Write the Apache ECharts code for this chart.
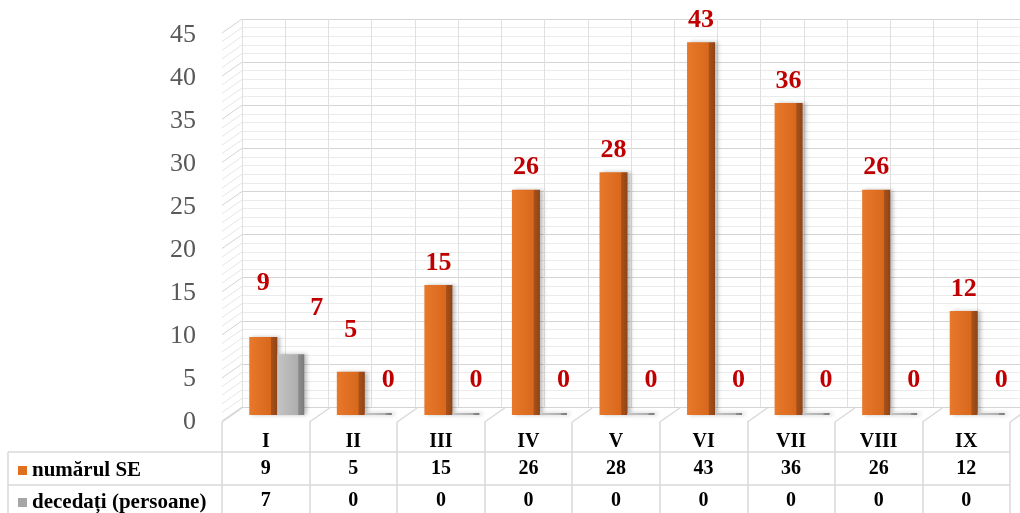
<!DOCTYPE html>
<html><head><meta charset="utf-8">
<script src="https://cdn.jsdelivr.net/npm/echarts@6/dist/echarts.min.js"></script>
<style>html,body{margin:0;padding:0;background:#fff}#c{width:1020px;height:513px}</style>
</head><body><div id="c"></div>
<script>
// ---- data ----
const categories = ['I','II','III','IV','V','VI','VII','VIII','IX'];
const seriesNames = ['numărul SE','decedați (persoane)'];
const numarulSE = [9,5,15,26,28,43,36,26,12];
const decedati = [7,0,0,0,0,0,0,0,0];
const yMin = 0, yMax = 45, yStep = 5;

// ---- styling ----
const SERIF = "'Liberation Serif','Times New Roman',serif";
const ORANGE = '#E07020', GREY = '#A6A6A6';
const orangeFill = {type:'linear',x:0,y:0,x2:1,y2:0,colorStops:[
  {offset:0,color:'#E8782A'},{offset:0.76,color:'#D8681C'},{offset:0.79,color:'#A9501A'},{offset:1,color:'#8E4416'}]};
const greyFill = {type:'linear',x:0,y:0,x2:1,y2:0,colorStops:[
  {offset:0,color:'#C4C4C4'},{offset:0.76,color:'#AEAEAE'},{offset:0.79,color:'#8C8C8C'},{offset:1,color:'#7A7A7A'}]};
const orangeLabelDist = {0:41, 1:28};
const greyLabelDist = {0:33};
const greyLabelOffset = {0:[26,0]};

const chart = echarts.init(document.getElementById('c'));
const lineColor = '#D9D9D9';
const tableFont = {fontFamily:SERIF,fontSize:20,fontWeight:'bold',color:'#000'};
const legendBase = {orient:'vertical',left:13,itemWidth:9,itemHeight:9,icon:'rect',
  textStyle:{fontFamily:SERIF,fontSize:21,fontWeight:'bold',color:'#000'}};

chart.setOption({
  backgroundColor:'#fff',
  animation:false,
  grid:[
    {left:222,right:10,top:35,bottom:91},   // axis labels + table
    {left:219,right:13,top:25,bottom:98},   // bars
    {left:242,right:-12,top:19,bottom:106}  // back wall
  ],
  legend:[
    Object.assign({top:455,data:[{name:seriesNames[0],itemStyle:{color:ORANGE}}]},legendBase),
    Object.assign({top:487,data:[{name:seriesNames[1],itemStyle:{color:GREY}}]},legendBase)
  ],
  xAxis:[
    {gridIndex:0,type:'category',data:categories,axisLine:{show:false},
     axisTick:{show:true,length:91,lineStyle:{color:lineColor,width:1.5}},
     axisLabel:Object.assign({margin:10},tableFont)},
    {gridIndex:0,type:'category',position:'bottom',data:numarulSE.map(String),axisLine:{show:false},axisTick:{show:false},
     axisLabel:Object.assign({margin:37},tableFont)},
    {gridIndex:0,type:'category',position:'bottom',data:decedati.map(String),axisLine:{show:false},axisTick:{show:false},
     axisLabel:Object.assign({margin:69},tableFont)},
    {gridIndex:1,type:'category',data:categories,show:false},
    {gridIndex:2,type:'value',min:0,max:categories.length*2,interval:1,show:true,
     axisLine:{show:false},axisTick:{show:false},axisLabel:{show:false},
     splitLine:{show:true,lineStyle:{color:'#E0E0E0',width:1}}}
  ],
  yAxis:[
    {gridIndex:0,type:'value',min:yMin,max:yMax,interval:yStep,axisLine:{show:false},axisTick:{show:false},splitLine:{show:false},
     axisLabel:{margin:26,fontFamily:SERIF,fontSize:26,color:'#595959'}},
    {gridIndex:1,type:'value',min:yMin,max:yMax,show:false,splitLine:{show:false}},
    {gridIndex:2,type:'value',min:yMin,max:yMax,interval:1,axisLine:{show:false},axisTick:{show:false},axisLabel:{show:false},
     splitLine:{show:true,lineStyle:{color:'#EBEBEB',width:1}}},
    {gridIndex:2,type:'value',min:yMin,max:yMax,interval:yStep,axisLine:{show:false},axisTick:{show:false},axisLabel:{show:false},
     splitLine:{show:true,lineStyle:{color:'#D4D4D4',width:1.2}}}
  ],
  series:[
    {type:'bar',name:'_slot',xAxisIndex:3,yAxisIndex:1,data:[],barWidth:28,barGap:'0%',silent:true},
    {type:'bar',name:seriesNames[0],xAxisIndex:3,yAxisIndex:1,barWidth:28,barGap:'0%',
     itemStyle:{color:orangeFill,shadowColor:'rgba(0,0,0,0.25)',shadowBlur:4,shadowOffsetX:3},
     label:{show:true,position:'top',distance:9,fontFamily:SERIF,fontSize:26,fontWeight:'bold',color:'#C00000'},
     data:numarulSE.map((v,i)=>({value:v,label:{distance:orangeLabelDist[i]!==undefined?orangeLabelDist[i]:9}}))},
    {type:'bar',name:seriesNames[1],xAxisIndex:3,yAxisIndex:1,barWidth:27,barGap:'0%',barMinHeight:2,
     itemStyle:{color:greyFill,shadowColor:'rgba(0,0,0,0.25)',shadowBlur:4,shadowOffsetX:3},
     label:{show:true,position:'top',distance:20,offset:[10,0],fontFamily:SERIF,fontSize:26,fontWeight:'bold',color:'#C00000'},
     data:decedati.map((v,i)=>({value:v,label:{distance:greyLabelDist[i]!==undefined?greyLabelDist[i]:20,offset:greyLabelOffset[i]||[10,0]}}))}
  ]
});

// decorative 3D side-wall / floor lines and table rules
const deco = [
  {type:'line',shape:{x1:8,y1:452,x2:1010,y2:452},style:{stroke:lineColor,lineWidth:1.5},silent:true},
  {type:'line',shape:{x1:8,y1:485,x2:1010,y2:485},style:{stroke:lineColor,lineWidth:1.5},silent:true},
  {type:'line',shape:{x1:8,y1:452,x2:8,y2:513},style:{stroke:lineColor,lineWidth:1.5},silent:true}
];
const dx = 20, dy = 14;
for (let v = yMin; v <= yMax; v++) {
  const yb = chart.convertToPixel({yAxisIndex:2}, v);
  deco.push({type:'line',z:-1,silent:true,shape:{x1:242-dx,y1:yb+dy,x2:242,y2:yb},
    style:{stroke: v % yStep === 0 ? '#D4D4D4' : '#E6E6E6', lineWidth:1}});
}
for (let k = 0; k <= categories.length; k++) {
  const xf = 222 + k * (1010 - 222) / categories.length;
  deco.push({type:'line',z:-1,silent:true,shape:{x1:xf,y1:422,x2:xf+dx,y2:422-dy},
    style:{stroke:lineColor,lineWidth:1.5}});
}
chart.setOption({graphic:deco});
</script></body></html>
